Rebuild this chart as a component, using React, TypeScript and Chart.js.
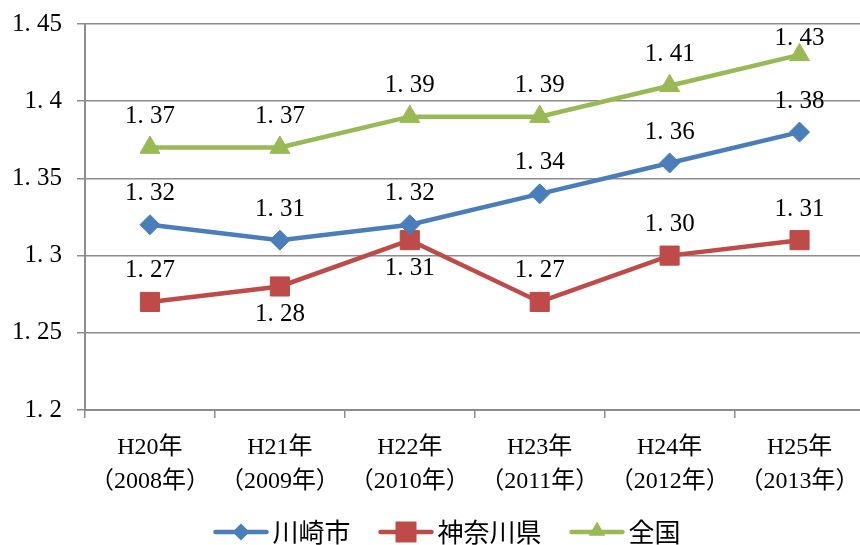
import React, { useEffect, useRef } from "react";
import { Chart, registerables } from "chart.js";

Chart.register(...registerables);

const categories: string[][] = [
  ["H20年", "（2008年）"],
  ["H21年", "（2009年）"],
  ["H22年", "（2010年）"],
  ["H23年", "（2011年）"],
  ["H24年", "（2012年）"],
  ["H25年", "（2013年）"],
];
const seriesNames = ["川崎市", "神奈川県", "全国"];
const kawasaki = [1.32, 1.31, 1.32, 1.34, 1.36, 1.38];
const kanagawa = [1.27, 1.28, 1.31, 1.27, 1.3, 1.31];
const zenkoku = [1.37, 1.37, 1.39, 1.39, 1.41, 1.43];
const yMin = 1.2;
const yMax = 1.45;
const yStep = 0.05;

// label placement (style, not data)
const kanagawaLabelSide = ["above", "below", "below", "above", "above", "above"];

const COLORS = ["#4A7EBB", "#BE4B48", "#98B954"];
const POINT_STYLES = ["rectRot", "rect", "triangle"];
const POINT_RADII = [10, 13.5, 11.5];
const GRID = "#8C8C8C";
const SERIF = '"Liberation Serif", "Noto Sans CJK JP", serif';
const SANS = '"Noto Sans CJK JP", "Noto Sans", sans-serif';
const SHIFT = 6; // canvas is offset upward by this many px

const fmt = (v: number) => String(Number(v.toFixed(2))).replace(".", ". ");
const fmt2 = (v: number) => v.toFixed(2).replace(".", ". ");

function drawMarker(ctx: CanvasRenderingContext2D, style: string, x: number, y: number, r: number, color: string) {
  ctx.save();
  ctx.fillStyle = color;
  ctx.beginPath();
  if (style === "rectRot") {
    ctx.moveTo(x, y - r);
    ctx.lineTo(x + r, y);
    ctx.lineTo(x, y + r);
    ctx.lineTo(x - r, y);
  } else if (style === "rect") {
    const s = r * Math.SQRT1_2;
    ctx.rect(x - s, y - s, 2 * s, 2 * s);
  } else {
    const h = r * 1.5;
    const w = r * Math.sqrt(3);
    ctx.moveTo(x, y - r);
    ctx.lineTo(x + w / 2, y - r + h);
    ctx.lineTo(x - w / 2, y - r + h);
  }
  ctx.closePath();
  ctx.fill();
  ctx.restore();
}

const labelPlugin = {
  id: "valueLabels",
  afterDatasetsDraw(chart: any) {
    const ctx = chart.ctx as CanvasRenderingContext2D;
    const top = chart.chartArea.top;
    ctx.save();
    ctx.font = `25px ${SERIF}`;
    ctx.fillStyle = "#000";
    ctx.textAlign = "center";
    ctx.textBaseline = "middle";
    chart.data.datasets.forEach((ds: any, di: number) => {
      const meta = chart.getDatasetMeta(di);
      meta.data.forEach((el: any, i: number) => {
        const side = di === 1 ? kanagawaLabelSide[i] : "above";
        let y = side === "above" ? el.y - 31 : el.y + 28;
        if (y < top + 14) y = top + 14;
        ctx.fillText(fmt2(ds.data[i]), el.x, y);
      });
    });
    ctx.restore();
  },
};

const legendPlugin = {
  id: "customLegend",
  afterDraw(chart: any) {
    const ctx = chart.ctx as CanvasRenderingContext2D;
    ctx.save();
    ctx.font = `26px ${SANS}`;
    const lineLen = 55;
    const gapText = 4;
    const gapItem = 28;
    const widths = seriesNames.map((n) => ctx.measureText(n).width);
    const total =
      widths.reduce((a, w) => a + lineLen + gapText + w, 0) + gapItem * (seriesNames.length - 1);
    let x = 447 - total / 2;
    const y = 532 + SHIFT;
    seriesNames.forEach((n, i) => {
      ctx.strokeStyle = COLORS[i];
      ctx.lineWidth = 4.5;
      ctx.lineCap = "round";
      ctx.beginPath();
      ctx.moveTo(x + 2, y);
      ctx.lineTo(x + lineLen - 2, y);
      ctx.stroke();
      const r = i === 0 ? 8.5 : i === 1 ? 10.5 : 9.5;
      drawMarker(ctx, POINT_STYLES[i], x + lineLen / 2, i === 2 ? y - 1 : y, r * (i === 1 ? 1.414 : 1), COLORS[i]);
      ctx.fillStyle = "#000";
      ctx.textAlign = "left";
      ctx.textBaseline = "middle";
      ctx.fillText(n, x + lineLen + gapText, y);
      x += lineLen + gapText + widths[i] + gapItem;
    });
    ctx.restore();
  },
};

export default function App() {
  const ref = useRef<HTMLCanvasElement | null>(null);
  useEffect(() => {
    document.body.style.margin = "0";
    if (!ref.current) return;
    const values = [kawasaki, kanagawa, zenkoku];
    const chart = new Chart(ref.current, {
      type: "line",
      data: {
        labels: categories,
        datasets: seriesNames.map((name, i) => ({
          label: name,
          data: values[i],
          borderColor: COLORS[i],
          backgroundColor: COLORS[i],
          borderWidth: 4.5,
          pointStyle: POINT_STYLES[i] as any,
          pointRadius: POINT_RADII[i],
          pointBorderWidth: 1,
          pointBorderColor: COLORS[i],
          pointBackgroundColor: COLORS[i],
          tension: 0,
          fill: false,
        })),
      },
      options: {
        animation: false,
        responsive: false,
        devicePixelRatio: 1,
        layout: { padding: { top: 18, right: 1, left: 0, bottom: 0 } },
        plugins: {
          legend: { display: false },
          tooltip: { enabled: false },
        },
        scales: {
          x: {
            type: "category",
            offset: true,
            afterFit: (s: any) => {
              s.height = 135;
            },
            grid: {
              display: true,
              drawOnChartArea: false,
              drawTicks: true,
              tickLength: 8,
              color: GRID,
              lineWidth: 1.5,
              offset: true,
            },
            border: { display: true, color: GRID, width: 2 },
            ticks: {
              color: "#000",
              padding: 12,
              maxRotation: 0,
              autoSkip: false,
              font: { family: SERIF, size: 24, lineHeight: 1.45 },
            },
          },
          y: {
            min: yMin,
            max: yMax,
            afterFit: (s: any) => {
              s.width = 85;
            },
            grid: {
              color: GRID,
              lineWidth: 1.5,
              drawTicks: true,
              tickLength: 8,
            },
            border: { display: true, color: GRID, width: 2 },
            ticks: {
              stepSize: yStep,
              color: "#000",
              padding: 15,
              font: { family: SERIF, size: 25 },
              callback: (v: any) => fmt(Number(v)),
            },
          },
        },
      },
      plugins: [labelPlugin, legendPlugin],
    });
    return () => chart.destroy();
  }, []);
  return (
    <div style={{ width: 860, height: 545, overflow: "hidden", background: "#fff" }}>
      <canvas
        ref={ref}
        width={879}
        height={545 + SHIFT}
        style={{ display: "block", marginTop: -SHIFT }}
      />
    </div>
  );
}
